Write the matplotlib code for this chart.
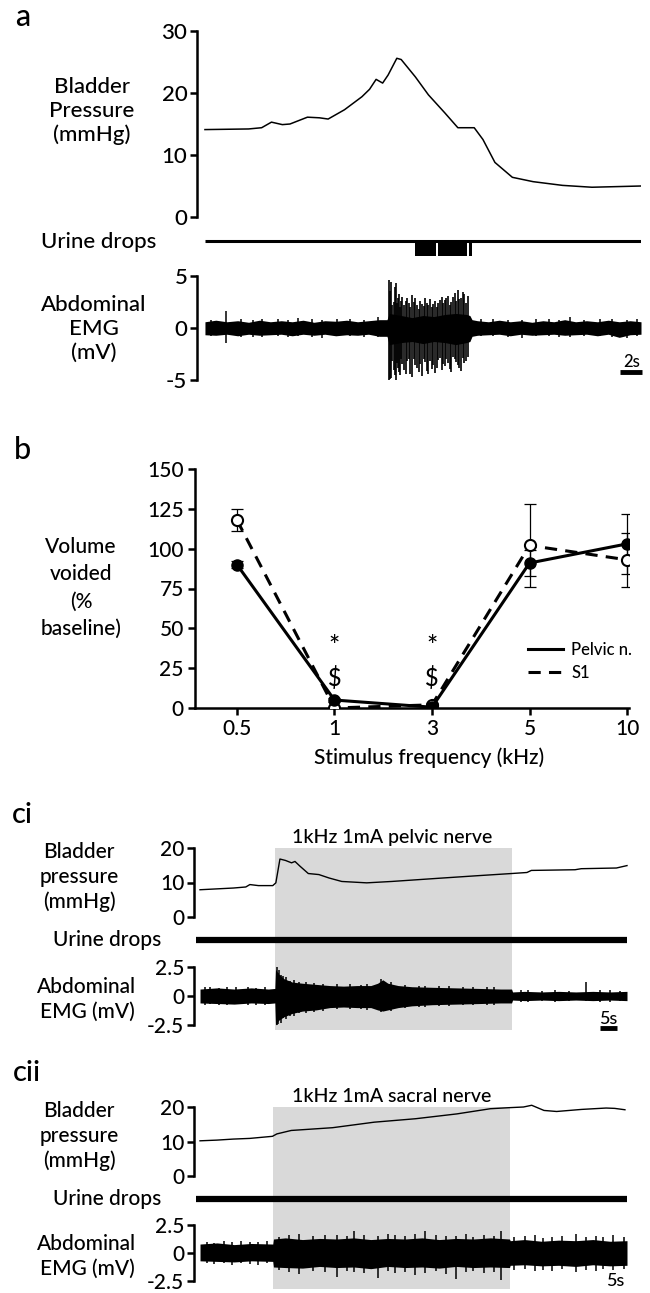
import matplotlib
matplotlib.use("Agg")
import matplotlib.pyplot as plt

plt.rcParams['font.family'] = ['Lato', 'DejaVu Sans']
plt.rcParams['font.weight'] = 'medium'

# ---------------- panel a: voiding contraction ----------------
a_press_t = [0, 4.0, 5.2, 6.1, 7.1, 7.8, 9.4, 10.5, 11.3, 12.8, 14.4, 15.1, 15.7, 16.3, 16.8,
             17.6, 18.0, 19.3, 20.5, 22.0, 23.2, 24.7, 25.5, 26.6, 28.2, 30.1, 32.8, 35.5, 40]
a_press_v = [14.1, 14.2, 14.4, 15.3, 14.9, 15.0, 16.1, 16.0, 15.8, 17.3, 19.4, 20.6, 22.2, 21.6, 22.9,
             25.6, 25.4, 22.6, 19.7, 16.8, 14.4, 14.4, 12.5, 8.8, 6.4, 5.7, 5.1, 4.8, 5.0]
a_drop_start = [19.3, 21.4, 24.2]
a_drop_end = [21.2, 24.0, 24.5]

a_emg_t = [0, 1, 2, 3, 4, 5, 6, 7, 8, 9, 10, 11, 12, 13, 14, 15, 16, 16.7, 16.9, 18, 19, 20, 21, 22,
           23, 24, 24.3, 24.5, 25, 26, 27, 28, 29, 30, 31, 32, 33, 34, 35, 36, 37, 38, 39, 40]
a_emg_hi = [0.6, 0.75, 0.6, 0.7, 0.55, 0.75, 0.6, 0.7, 0.6, 0.75, 0.55, 0.7, 0.65, 0.75, 0.6, 0.7, 0.8,
            0.8, 1.4, 1.2, 1.0, 1.2, 1.1, 1.3, 1.4, 1.3, 1.2, 0.8, 0.7,
            0.6, 0.75, 0.6, 0.7, 0.55, 0.7, 0.6, 0.8, 0.6, 0.7, 0.6, 0.75, 0.6, 0.7, 0.6]
a_emg_lo = [-0.65, -0.7, -0.6, -0.75, -0.6, -0.7, -0.65, -0.6, -0.75, -0.6, -0.7, -0.6, -0.75, -0.65,
            -0.7, -0.6, -0.8, -0.8, -1.6, -1.4, -1.3, -1.5, -1.3, -1.4, -1.6, -1.4, -1.3, -0.8, -0.7,
            -0.65, -0.6, -0.75, -0.6, -0.7, -0.65, -0.6, -0.7, -0.65, -0.6, -0.75, -0.6, -0.9, -0.65, -0.6]
a_spike_t = [0.6, 1.9, 3.3, 4.4, 5.2, 6.7, 7.6, 8.5, 9.8, 10.7, 12.1, 13.3, 14.6, 15.9,
             25.3, 26.4, 27.8, 29.1, 30.4, 31.6, 32.5, 33.5, 34.8, 36.2, 37.3, 38.7, 39.6]
a_spike_hi = [0.8, 1.6, 0.85, 0.8, 0.9, 0.85, 0.8, 1.0, 0.85, 0.8, 0.85, 0.9, 0.8, 1.1,
              0.85, 0.9, 0.8, 0.8, 0.85, 0.9, 0.8, 1.1, 0.8, 0.9, 0.85, 0.8, 0.85]
a_spike_lo = [-0.8, -1.4, -0.85, -0.9, -0.9, -0.8, -0.85, -0.8, -0.9, -1.0, -0.8, -0.8, -0.85, -0.9,
              -0.8, -0.8, -0.85, -1.0, -0.8, -0.8, -0.85, -0.9, -0.8, -0.8, -0.85, -1.0, -0.8]
a_burst_t = [16.9, 17.0, 17.1, 17.2, 17.3, 17.4, 17.5, 17.6, 17.7, 17.8, 17.9, 18.0, 18.1, 18.25,
             18.4, 18.55, 18.7, 18.85, 19.0, 19.15, 19.3, 19.45, 19.6, 19.75, 19.9, 20.05, 20.2,
             20.35, 20.5, 20.65, 20.8, 20.95, 21.1, 21.25, 21.4, 21.55, 21.7, 21.85, 22.0, 22.15,
             22.3, 22.45, 22.6, 22.75, 22.9, 23.05, 23.2, 23.35, 23.5, 23.65, 23.8, 23.95, 24.1]
a_burst_hi = [4.6, 3.6, 4.4, 2.2, 2.5, 3.9, 4.3, 2.4, 2.9, 3.3, 2.0, 2.6, 3.0, 2.2,
              2.6, 2.9, 2.4, 2.0, 3.2, 2.5, 2.9, 2.2, 1.8, 2.6, 2.3, 2.1, 2.9,
              2.4, 2.2, 2.8, 2.0, 2.3, 2.6, 2.0, 2.4, 2.7, 3.0, 2.4, 2.7, 2.9,
              3.1, 2.2, 2.5, 3.0, 3.4, 2.6, 3.7, 2.8, 2.9, 3.5, 3.3, 2.4, 3.1]
a_burst_lo = [-5.0, -4.9, -4.8, -3.2, -4.0, -4.5, -5.0, -3.4, -3.8, -4.2, -4.5, -3.0, -3.5, -4.0,
              -4.4, -3.2, -3.0, -4.4, -4.7, -3.0, -3.6, -3.8, -4.2, -3.5, -4.6, -3.0, -3.3,
              -4.1, -4.4, -3.2, -3.9, -3.6, -4.3, -3.8, -3.1, -2.9, -4.0, -3.5, -3.7, -3.0,
              -3.4, -3.9, -4.2, -2.8, -3.0, -3.3, -3.6, -3.8, -4.1, -2.9, -3.4, -3.2, -2.8]

# ---------------- panel b: volume voided ----------------
freq_labels = ['0.5', '1', '3', '5', '10']
pelvic_mean = [90, 5, 0.5, 91, 103]
pelvic_err = [2, 1, 0.5, 8, 19]
s1_mean = [118, 0, 2, 102, 93]
s1_err = [7, 0.5, 1, 26, 17]
sig_idx = [1, 2]

# ---------------- panel ci: 1 kHz pelvic nerve ----------------
ci_stim = (22.0, 91.3)
ci_press_t = [0, 9.8, 13.4, 14.6, 17.1, 21.3, 22.2, 23.4, 25.0, 26.8, 27.8, 29.3, 31.7, 34.8, 37.8,
              41.5, 48.8, 56.1, 69.5, 81.7, 91.2, 95.7, 97.0, 109.8, 111.6, 121.9, 125]
ci_press_v = [7.9, 8.4, 8.7, 9.4, 9.1, 9.1, 9.9, 16.8, 16.4, 15.7, 16.1, 14.7, 12.6, 12.3, 11.3,
              10.3, 9.9, 10.3, 11.2, 12.0, 12.6, 12.9, 13.5, 13.7, 14.0, 14.2, 14.9]
ci_emg_t = [0, 5, 10, 15, 20, 21.9, 22.1, 23, 24.5, 27, 30, 34, 38, 42, 46, 50, 52, 53.5, 55, 58,
            62, 68, 75, 82, 88, 91.2, 91.5, 95, 100, 105, 110, 115, 120, 125]
ci_emg_hi = [0.6, 0.7, 0.6, 0.7, 0.6, 0.65, 2.3, 1.9, 1.5, 1.2, 1.1, 1.0, 0.9, 0.85, 0.9, 0.9, 1.1,
             1.4, 1.1, 0.9, 0.8, 0.75, 0.7, 0.65, 0.6, 0.6, 0.35, 0.4, 0.35, 0.4, 0.35, 0.4, 0.35, 0.4]
ci_emg_lo = [-0.6, -0.65, -0.7, -0.6, -0.65, -0.6, -2.5, -2.1, -1.8, -1.5, -1.3, -1.2, -1.0, -0.95,
             -1.0, -1.0, -1.2, -1.3, -1.2, -1.0, -0.85, -0.75, -0.7, -0.65, -0.6, -0.6, -0.35, -0.4,
             -0.35, -0.4, -0.35, -0.4, -0.35, -0.4]
ci_spike_t = [1.5, 3, 5.5, 8, 10.5, 14, 16.5, 19, 22.4, 22.8, 23.2, 23.6, 24.2, 25.2, 26.4, 27.5,
              29, 31, 33.5, 36, 40, 44, 47, 49, 53, 56, 60, 64, 66, 70, 73, 77,
              80, 84, 86, 94, 96, 100, 104, 108, 113, 117, 120, 123]
ci_spike_hi = [0.75, 0.8, 0.7, 0.75, 0.8, 0.8, 0.7, 0.75, 2.5, 2.0, 2.2, 1.8, 1.7, 1.6, 1.3, 1.4,
               1.2, 1.2, 1.1, 1.0, 1.0, 1.0, 0.95, 1.05, 1.5, 1.2, 0.95, 0.9, 0.9, 0.85, 0.85, 0.8,
               0.8, 0.75, 0.75, 0.5, 0.5, 0.45, 0.5, 0.45, 1.2, 0.5, 0.5, 0.45]
ci_spike_lo = [-0.75, -0.7, -0.8, -0.75, -0.7, -0.8, -0.75, -0.8, -2.6, -2.4, -2.0, -2.3, -1.9, -2.0,
               -1.7, -1.7, -1.5, -1.5, -1.4, -1.3, -1.1, -1.1, -1.1, -1.2, -1.4, -1.3, -1.0, -0.95,
               -0.95, -0.85, -0.85, -0.8, -0.8, -0.75, -0.75, -0.5, -0.5, -0.45, -0.5, -0.45, -0.4,
               -0.5, -0.5, -0.45]

# ---------------- panel cii: 1 kHz sacral nerve ----------------
cii_stim = (21.4, 90.7)
cii_press_t = [0, 4.9, 9.7, 14.6, 21.2, 22.5, 26.7, 38.8, 51.0, 63.1, 75.2, 85.0, 90.4, 94.7, 97.1,
               100.7, 104.4, 111.7, 118.9, 121.4, 124.4]
cii_press_v = [10.2, 10.4, 10.7, 10.9, 11.5, 12.2, 13.2, 14.0, 15.6, 16.6, 18.0, 19.5, 19.8, 20.0, 20.5,
               19.0, 18.7, 19.3, 19.7, 19.6, 19.2]
cii_emg_t = [0, 5, 10, 15, 21.3, 21.5, 25, 30, 35, 40, 45, 50, 55, 60, 65, 70, 75, 80, 85, 90.6, 90.8,
             95, 100, 105, 110, 115, 120, 125]
cii_emg_hi = [0.8, 0.9, 0.75, 0.85, 0.8, 1.25, 1.35, 1.2, 1.3, 1.25, 1.35, 1.2, 1.3, 1.25, 1.35, 1.2,
              1.3, 1.25, 1.35, 1.25, 1.1, 1.2, 1.05, 1.15, 1.1, 1.2, 1.05, 1.1]
cii_emg_lo = [-0.7, -0.75, -0.8, -0.7, -0.75, -1.25, -1.3, -1.35, -1.2, -1.3, -1.25, -1.4, -1.2, -1.3,
              -1.25, -1.35, -1.2, -1.3, -1.25, -1.3, -1.1, -1.05, -1.15, -1.1, -1.2, -1.05, -1.15, -1.1]
cii_spike_t = [2, 4, 7, 9.5, 12, 14.5, 17, 19.5, 23, 26, 29, 33, 36.5, 40, 43, 45, 48, 52, 55, 57,
               60, 63, 66, 69, 72, 75, 78, 80, 83, 86, 88, 92, 95, 98, 100.5, 103, 106, 110, 113,
               116, 118, 121, 124]
cii_spike_hi = [1.0, 0.9, 1.1, 0.95, 1.1, 1.0, 0.95, 1.05, 1.4, 1.6, 1.7, 1.5, 1.6, 1.6, 1.5, 2.0,
                1.6, 1.5, 1.7, 1.6, 1.5, 1.7, 2.0, 1.6, 1.5, 1.5, 1.7, 1.4, 1.6, 1.5, 2.0, 1.4,
                1.5, 1.6, 1.3, 1.4, 1.5, 1.7, 1.4, 1.5, 1.4, 1.6, 1.4]
cii_spike_lo = [-0.9, -1.0, -0.85, -1.05, -0.9, -1.0, -1.1, -0.9, -1.5, -1.7, -1.9, -1.6, -1.7, -2.1,
                -1.6, -1.7, -1.8, -2.2, -1.6, -1.8, -1.7, -2.0, -1.8, -1.6, -1.9, -2.3, -1.7, -1.6,
                -1.8, -1.7, -2.4, -1.5, -1.4, -1.6, -1.5, -1.6, -1.4, -1.7, -1.5, -1.6, -1.4, -1.5, -1.4]

W, H = 650, 1293
fig = plt.figure(figsize=(W / 100, H / 100), dpi=100)


def px_axes(x0, top, x1, bot):
    return fig.add_axes([x0 / W, 1 - bot / H, (x1 - x0) / W, (bot - top) / H])


def ftext(x, y, s, **kw):
    kw.setdefault('ha', 'center')
    kw.setdefault('va', 'center')
    fig.text(x / W, 1 - y / H, s, **kw)


def style_trace(ax, ticks, labels, fs, lw=1.8):
    ax.patch.set_alpha(0)
    for s in ['top', 'right', 'bottom']:
        ax.spines[s].set_visible(False)
    ax.spines['left'].set_linewidth(lw)
    ax.set_xticks([])
    ax.set_yticks(ticks)
    ax.set_yticklabels(labels)
    ax.tick_params(axis='y', direction='out', length=5, width=lw, labelsize=fs, pad=2)


def draw_emg(ax, t, hi, lo, st, sh, sl):
    ax.fill_between(t, lo, hi, color='black', lw=0)
    ax.vlines(st, sl, sh, color='black', lw=1.1)


# ---- panel a ----
a_xlim = (-0.73, 40)
ax = px_axes(197, 31, 641, 217)
ax.plot(a_press_t, a_press_v, color='black', lw=1.1)
ax.set_xlim(a_xlim)
ax.set_ylim(0, 30)
style_trace(ax, [0, 10, 20, 30], ['0', '10', '20', '30'], 16)

ax = px_axes(197, 238, 641, 256)
ax.hlines(0, 0, 40, color='black', lw=2.2)
ax.bar(a_drop_start, -1, width=[e - s for s, e in zip(a_drop_start, a_drop_end)], align='edge',
       color='black')
ax.set_xlim(a_xlim)
ax.set_ylim(-1, 0.2)
ax.axis('off')

ax = px_axes(197, 276, 641, 380)
draw_emg(ax, a_emg_t, a_emg_hi, a_emg_lo, a_spike_t, a_spike_hi, a_spike_lo)
ax.vlines(a_burst_t, a_burst_lo, a_burst_hi, color='black', lw=1.2)
ax.set_xlim(a_xlim)
ax.set_ylim(-5, 5)
style_trace(ax, [-5, 0, 5], ['-5', '0', '5'], 16)
ax.plot([38.1, 40.1], [-4.2, -4.2], color='black', lw=3.5, clip_on=False, solid_capstyle='butt')
ax.text(39.1, -3.3, '2s', ha='center', va='center', fontsize=12)

ftext(23, 17, 'a', fontsize=22)
ftext(92, 111, 'Bladder\nPressure\n(mmHg)', fontsize=16, linespacing=1.25)
ftext(99, 242, 'Urine drops', fontsize=16)
ftext(94, 329, 'Abdominal\nEMG\n(mV)', fontsize=16, linespacing=1.25)

# ---- panel b ----
ax = px_axes(195, 469, 629, 708)
xs = list(range(len(freq_labels)))
ax.errorbar(xs, s1_mean, yerr=s1_err, fmt='none', ecolor='black', elinewidth=0.9, capsize=4,
            capthick=0.9, zorder=2)
ax.errorbar(xs, pelvic_mean, yerr=pelvic_err, fmt='none', ecolor='black', elinewidth=0.9, capsize=4,
            capthick=0.9, zorder=2)
ax.plot(xs, s1_mean, color='black', lw=2.2, ls=(0, (4, 2.7)), marker='o', ms=8, mfc='white',
        mec='black', mew=1.5, label='S1', zorder=3)
ax.plot(xs, pelvic_mean, color='black', lw=2.2, marker='o', ms=8, mfc='black', mec='black',
        label='Pelvic n.', zorder=4)
for i in sig_idx:
    ax.text(i, 38, '*', ha='center', va='center', fontsize=19)
    ax.text(i, 19, r'\$', ha='center', va='center', fontsize=17)
ax.set_xlim(-0.43, 4.02)
ax.set_ylim(0, 150)
ax.set_xticks(xs)
ax.set_xticklabels(freq_labels)
ax.set_yticks([0, 25, 50, 75, 100, 125, 150])
for s in ['top', 'right']:
    ax.spines[s].set_visible(False)
for s in ['left', 'bottom']:
    ax.spines[s].set_linewidth(1.8)
ax.tick_params(direction='out', length=5, width=1.8, labelsize=15, pad=3)
h, l = ax.get_legend_handles_labels()
ax.legend(h[::-1], l[::-1], loc='upper left', bbox_to_anchor=(528 / W, 1 - 642 / H),
          bbox_transform=fig.transFigure, frameon=False, fontsize=12, handlelength=2.1,
          handletextpad=0.5, labelspacing=0.4, borderpad=0, borderaxespad=0)
for line in ax.get_legend().get_lines():
    line.set_marker('')

ftext(23, 450, 'b', fontsize=22)
ftext(81, 588, 'Volume\nvoided\n(%\nbaseline)', fontsize=15, linespacing=1.45)
ftext(429, 758, 'Stimulus frequency (kHz)', fontsize=15)

# ---- panels ci / cii ----
c_xlim = (-1.76, 125)


def panel_c(top, stim, press_t, press_v, emg, title, scalebar, emg_top, emg_bot):
    # top = pixel y of the 20 mmHg tick
    bg = px_axes(194, top, 627, top + 182)
    bg.axvspan(stim[0], stim[1], color='#d9d9d9', lw=0)
    bg.set_xlim(c_xlim)
    bg.axis('off')

    ax = px_axes(194, top, 627, top + 69)
    ax.plot(press_t, press_v, color='black', lw=1.0, clip_on=False)
    ax.set_xlim(c_xlim)
    ax.set_ylim(0, 20)
    style_trace(ax, [0, 10, 20], ['0', '10', '20'], 15)

    ax = px_axes(194, top + 82, 627, top + 102)
    ax.hlines(0, -1.2, 125, color='black', lw=4.5)
    ax.set_xlim(c_xlim)
    ax.set_ylim(-1, 1)
    ax.axis('off')

    ax = px_axes(194, top + emg_top, 627, top + emg_bot)
    draw_emg(ax, *emg)
    ax.set_xlim(c_xlim)
    ax.set_ylim(-2.5, 2.5)
    style_trace(ax, [-2.5, 0, 2.5], ['-2.5', '0', '2.5'], 15)
    if scalebar:
        ax.plot([117.1, 122.1], [-2.75, -2.75], color='black', lw=3.5, clip_on=False,
                solid_capstyle='butt')
        ax.text(119.6, -2.0, '5s', ha='center', va='center', fontsize=13)
    else:
        ax.text(121.5, -2.5, '5s', ha='center', va='center', fontsize=13)

    ftext(392, top - 11, title, fontsize=14)
    ftext(79, top + 29, 'Bladder\npressure\n(mmHg)', fontsize=15, linespacing=1.3)
    ftext(107, top + 92, 'Urine drops', fontsize=15)
    ftext(87, top + (emg_top + emg_bot) / 2 + 3, 'Abdominal\nEMG (mV)', fontsize=15, linespacing=1.3)


panel_c(848, ci_stim, ci_press_t, ci_press_v,
        (ci_emg_t, ci_emg_hi, ci_emg_lo, ci_spike_t, ci_spike_hi, ci_spike_lo),
        '1kHz 1mA pelvic nerve', True, 119, 177)
ftext(22, 815, 'ci', fontsize=21)

panel_c(1107, cii_stim, cii_press_t, cii_press_v,
        (cii_emg_t, cii_emg_hi, cii_emg_lo, cii_spike_t, cii_spike_hi, cii_spike_lo),
        '1kHz 1mA sacral nerve', False, 118, 174)
ftext(27, 1073, 'cii', fontsize=21)

fig.savefig('out.png', dpi=100)
